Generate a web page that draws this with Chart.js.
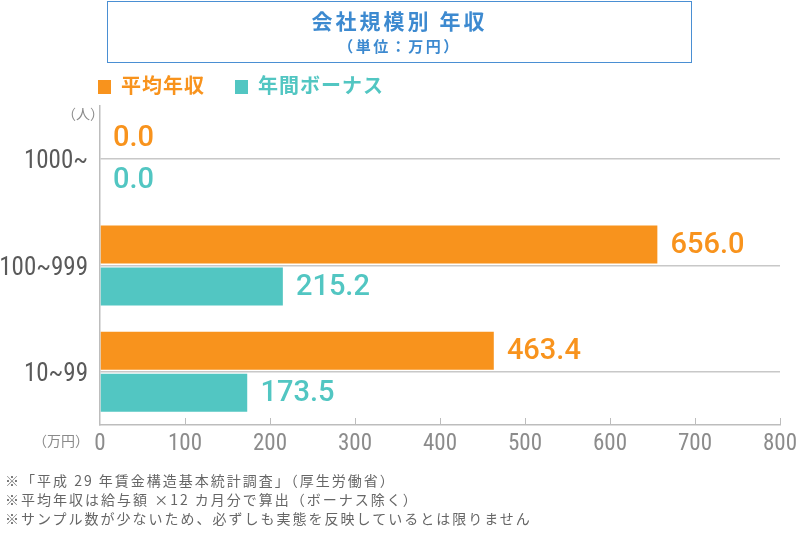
<!DOCTYPE html>
<html>
<head>
<meta charset="utf-8">
<script src="https://cdn.jsdelivr.net/npm/chart.js@4"></script>
<style>
  body { margin: 0; background: #fff; font-family: "Noto Sans CJK JP", sans-serif; }
  #wrap { position: relative; width: 800px; height: 533px; }
  #titleBox { position: absolute; left: 107px; top: 1px; width: 583px; height: 60px;
    border: 1.5px solid #4a8fd3; text-align: center; color: #3d8ad0; font-weight: bold; }
  #titleBox .t1 { font-size: 21px; letter-spacing: 3px; line-height: 24px; margin-top: 6px; }
  #titleBox .t2 { font-size: 15px; letter-spacing: 2.5px; line-height: 20px; margin-top: 4px; }
  .legend { position: absolute; top: 74px; font-size: 20px; font-weight: bold; letter-spacing: 1px; line-height: 22px; }
  .legend span.box { display: inline-block; width: 13px; height: 14px; margin-right: 10px; vertical-align: -1px; }
  .unit { position: absolute; font-size: 14px; color: #8a8a8a; }
  #notes { position: absolute; left: 5px; top: 471px; font-size: 14px; color: #666; line-height: 19px; letter-spacing: 2px; }
  canvas { position: absolute; left: 0; top: 0; }
</style>
</head>
<body>
<div id="wrap">
  <canvas id="myChart" width="800" height="533"></canvas>
  <div id="titleBox">
    <div class="t1">会社規模別 年収</div>
    <div class="t2">（単位：万円）</div>
  </div>
  <div class="legend" style="left:98px;color:#f8931d;"><span class="box" style="background:#f8931d"></span>平均年収</div>
  <div class="legend" style="left:235px;color:#52c6c2;"><span class="box" style="background:#52c6c2"></span>年間ボーナス</div>
  <div class="unit" style="left:62px;top:103px;">（人）</div>
  <div class="unit" style="left:33px;top:430px;">（万円）</div>
  <div id="notes">
    ※「平成 29 年賃金構造基本統計調査」（厚生労働省）<br>
    ※平均年収は給与額 ×12 カ月分で算出（ボーナス除く）<br>
    ※サンプル数が少ないため、必ずしも実態を反映しているとは限りません
  </div>
</div>
<script>
// データ
const categories = ['1000~', '100~999', '10~99'];
const heikinNenshu = [0.0, 656.0, 463.4];
const bonus = [0.0, 215.2, 173.5];
const xTicks = [0, 100, 200, 300, 400, 500, 600, 700, 800];

const orange = '#f8931d';
const teal = '#52c6c2';

// 棒の右に値を表示
const valueLabels = {
  id: 'valueLabels',
  afterDatasetsDraw(chart) {
    const ctx = chart.ctx;
    ctx.save();
    ctx.font = '500 29px Roboto, sans-serif';
    ctx.textBaseline = 'middle';
    ctx.textAlign = 'left';
    chart.data.datasets.forEach((ds, i) => {
      const meta = chart.getDatasetMeta(i);
      ctx.fillStyle = ds.backgroundColor;
      meta.data.forEach((bar, j) => {
        ctx.fillText(ds.data[j].toFixed(1), bar.x + 13, bar.y + 1);
      });
    });
    ctx.restore();
  }
};

// 下の軸の内向き目盛り
const innerTicks = {
  id: 'innerTicks',
  afterDraw(chart) {
    const ctx = chart.ctx;
    const x = chart.scales.x;
    const bottom = chart.chartArea.bottom;
    ctx.save();
    ctx.strokeStyle = '#bdbdbd';
    ctx.lineWidth = 1;
    xTicks.forEach(v => {
      if (v === 0) return;
      const px = Math.round(x.getPixelForValue(v)) + 0.5;
      ctx.beginPath();
      ctx.moveTo(px, bottom);
      ctx.lineTo(px, bottom - 7);
      ctx.stroke();
    });
    ctx.restore();
  }
};

const ctx = document.getElementById('myChart');

new Chart(ctx, {
  type: 'bar',
  data: {
    labels: categories,
    datasets: [{
      label: '平均年収',
      data: heikinNenshu,
      backgroundColor: orange,
      borderColor: 'rgba(0,0,0,0)',
      borderWidth: { top: 2, bottom: 2, left: 0, right: 0 },
      borderSkipped: false,
      categoryPercentage: 0.79,
      barPercentage: 1
    }, {
      label: '年間ボーナス',
      data: bonus,
      backgroundColor: teal,
      borderColor: 'rgba(0,0,0,0)',
      borderWidth: { top: 2, bottom: 2, left: 0, right: 0 },
      borderSkipped: false,
      categoryPercentage: 0.79,
      barPercentage: 1
    }]
  },
  options: {
    indexAxis: 'y',
    responsive: false,
    animation: false,
    layout: { padding: { top: 106, right: 20, left: 0, bottom: 0 } },
    plugins: {
      legend: { display: false },
      tooltip: { enabled: false }
    },
    scales: {
      x: {
        min: 0,
        max: 800,
        afterFit(scale) { scale.height = 108; scale.paddingRight = 0; scale.paddingLeft = 0; },
        afterBuildTicks(scale) { scale.ticks = xTicks.map(v => ({ value: v })); },
        grid: { drawOnChartArea: false, drawTicks: false },
        border: { color: '#bdbdbd', width: 1.5 },
        ticks: {
          color: '#8c8c8c',
          padding: 5,
          font: { family: '"Liberation Sans Narrow", "Roboto Condensed", sans-serif', size: 23 }
        }
      },
      y: {
        afterFit(scale) { scale.width = 100; },
        grid: { offset: false, color: '#c8c8c8', lineWidth: 1.5, drawTicks: false },
        border: { color: '#bdbdbd', width: 1.5 },
        ticks: {
          color: '#5a5a5a',
          padding: 12,
          labelOffset: 3,
          font: { family: '"Liberation Sans Narrow", "Roboto Condensed", sans-serif', size: 25 }
        }
      }
    }
  },
  plugins: [valueLabels, innerTicks]
});
</script>
</body>
</html>
